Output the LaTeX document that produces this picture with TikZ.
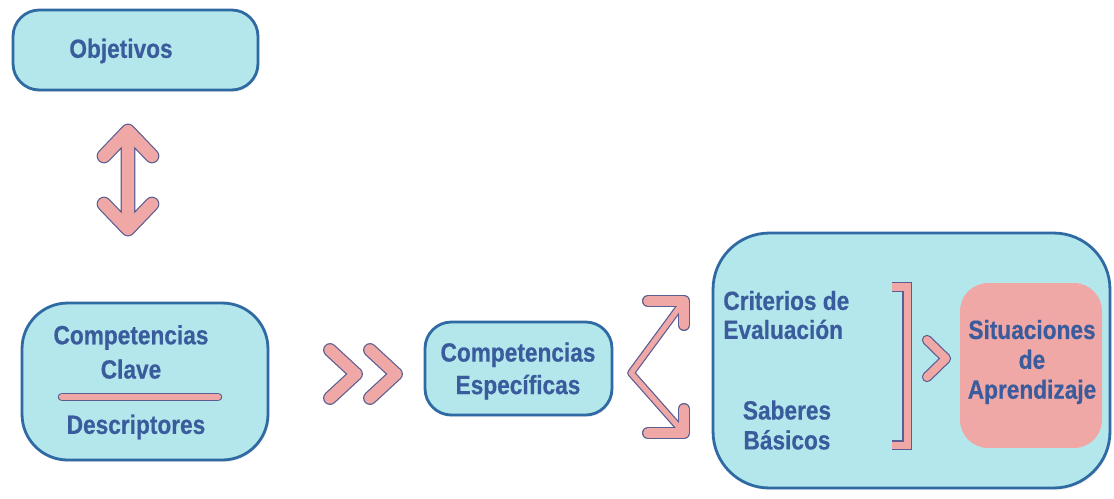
\documentclass[tikz,border=0pt]{standalone}
\usepackage{fontspec}
\setmainfont[FakeStretch=0.86,FakeBold=0.5]{Liberation Sans}
\usepackage{tikz}
\usetikzlibrary{shadows}

\definecolor{boxfill}{HTML}{B4E7EC}
\definecolor{boxline}{HTML}{2F6AA3}
\definecolor{txtblue}{HTML}{3A5C9C}
\definecolor{pinkfill}{HTML}{F0A8A6}
\definecolor{arrline}{HTML}{5B5E91}

\tikzset{
  box/.style={draw=boxline, line width=1.6pt, fill=boxfill,
    drop shadow={opacity=0.12, shadow xshift=0.8pt, shadow yshift=-1.2pt}},
  lbl/.style={text=txtblue, font=\bfseries\fontsize{15}{18.5}\selectfont, align=center, inner sep=0pt},
  fat/.style={draw=arrline, line width=0.7pt, double=pinkfill, line cap=round, line join=round},
  rim/.style={draw=arrline, line cap=round, line join=round},
  core/.style={draw=pinkfill, line cap=round, line join=round},
}

\begin{document}
\begin{tikzpicture}[x=0.02cm,y=-0.02cm]
\useasboundingbox (0,0) rectangle (1114,498);

\node[box, rounded corners=15pt, minimum width=4.9cm, minimum height=1.6cm] (objetivos) at (135.5,50) {};
\node[lbl] (objtxt) at (121,51) {Objetivos};

\draw[fat, double distance=7pt] (104,156) -- (128,131) -- (152,156) (128,133) -- (128,228) (104,204) -- (128,229) -- (152,204);

\node[box, rounded corners=26pt, minimum width=4.92cm, minimum height=3.14cm] (clave) at (145,381.5) {};
\node[lbl, font=\bfseries\fontsize{15}{19.5}\selectfont] (clavetxt) at (131,352) {Competencias\\Clave};
\draw[fat, double distance=3.5pt] (62,397) -- (218,397);
\node[lbl] (desctxt) at (136,427) {Descriptores};

\foreach \dx in {0,40}
  \draw[fat, double distance=6.5pt] (330+\dx,350) -- (356+\dx,374) -- (330+\dx,398);

\node[box, rounded corners=15pt, minimum width=3.74cm, minimum height=1.86cm] (especificas) at (518.5,368.5) {};
\node[lbl] (esptxt) at (518,371) {Competencias\\Específicas};

% fork
\draw[rim, line width=4.4pt] (684,301) -- (631,373) -- (684,433);
\draw[rim, line width=6.9pt] (648,301) -- (684,301) -- (684,325) (648,433) -- (684,433) -- (684,409);
\draw[core, line width=3pt] (684,301) -- (631,373) -- (684,433);
\draw[core, line width=5.5pt] (648,301) -- (684,301) -- (684,325) (648,433) -- (684,433) -- (684,409);

\node[box, rounded corners=32pt, minimum width=7.94cm, minimum height=5.1cm] (marco) at (911.5,360.5) {};
\node[lbl, align=left, anchor=west, font=\bfseries\fontsize{15}{16.5}\selectfont] (criterios) at (723,315) {Criterios de\\Evaluación};
\node[lbl, font=\bfseries\fontsize{15}{17}\selectfont] (saberes) at (787,425) {Saberes\\Básicos};
\draw[fat, double distance=4pt, line join=miter, line cap=butt] (892,287) -- (907,287) -- (907,445) -- (892,445);
\draw[fat, double distance=4.5pt] (927,340) -- (946,358.5) -- (927,377);

\node[fill=pinkfill, rounded corners=16pt, minimum width=2.84cm, minimum height=3.3cm] (situaciones) at (1031,365.5) {};
\node[lbl, font=\bfseries\fontsize{15}{17}\selectfont] (sittxt) at (1032,362) {Situaciones\\de\\Aprendizaje};

\end{tikzpicture}
\end{document}
